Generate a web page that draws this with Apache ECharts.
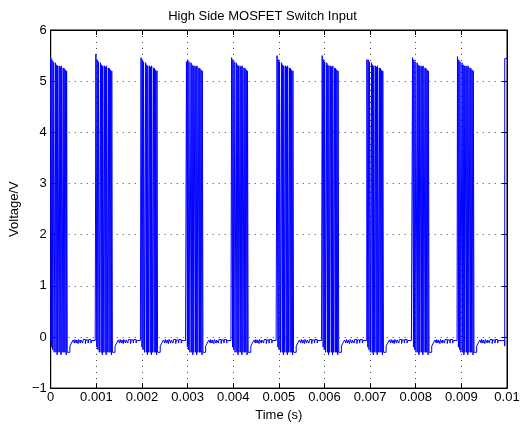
<!DOCTYPE html>
<html>
<head>
<meta charset="utf-8">
<script src="https://cdn.jsdelivr.net/npm/echarts@6/dist/echarts.min.js"></script>
<style>
html,body{margin:0;padding:0;background:#fff;}
#c{width:525px;height:427px;}
</style>
</head>
<body>
<div id="c"></div>
<script>
// ---- data ----
const xTickLabels = ['0','0.001','0.002','0.003','0.004','0.005','0.006','0.007','0.008','0.009','0.01'];
const yTickLabels = ['\u22121','0','1','2','3','4','5','6'];
// start of each switching burst (microseconds)
const burstStartUs = [0, 990, 1980, 2975, 3965, 4960, 5950, 6930, 7930, 8915];
// first peak level of each burst (V)
const burstPeak = [5.46, 5.53, 5.46, 5.38, 5.46, 5.50, 5.50, 5.42, 5.46, 5.48];
// rise/fall edge times inside a burst (us, relative to burst start)
const pulseEdgesUs = [
  0,20, 28,45, 55,75,
  100,115, 122,140, 148,160,
  185,200, 208,225, 232,250,
  272,287, 294,312, 320,340, 348,362
];
// high level of each pulse after the first (V)
const pulseTops = [5.42, 5.38, 5.36, 5.32, 5.30, 5.30, 5.28, 5.30, 5.26, 5.25, 5.22, 5.20];
// low level after each pulse (V)
const gapLows = [-0.20, -0.25, -0.30, -0.30, -0.35, -0.30, -0.30, -0.35, -0.30, -0.30, -0.30, -0.35, -0.30];
// low level before the first burst (V)
const startLevel = -0.08;
// tail after each burst (us relative to burst start, V)
const tailUs = [
  [420,-0.30],[420,-0.18],[455,-0.18],[455,-0.12],[490,-0.12],
  [490,-0.06],[520,-0.06],[520,-0.12],[530,-0.12],[530,-0.05],[560,-0.05],
  [560,-0.12],[570,-0.12],[570,-0.06],[600,-0.06],[600,-0.13],[612,-0.13],
  [612,-0.05],[650,-0.05],[650,-0.12],[660,-0.12],[660,-0.06],[700,-0.06],
  [700,-0.12],[712,-0.12],[712,-0.05],[760,-0.05],[760,-0.13],[772,-0.13],
  [772,-0.06],[820,-0.06],[820,-0.12],[832,-0.12],[832,-0.05],[880,-0.05],
  [880,-0.12],[895,-0.12],[895,-0.07],[975,-0.07]
];
// start of the next burst at the right edge (us, V)
const finalEdgeUs = [[9950,-0.18],[9950,5.44],[10000,5.44]];

// ---- build the waveform from the read values ----
const wave = [];
wave.push([0, startLevel]);
for (let k = 0; k < burstStartUs.length; k++) {
  const b = burstStartUs[k];
  let prevLow = k === 0 ? startLevel : tailUs[tailUs.length - 1][1];
  const nPulse = pulseEdgesUs.length / 2;
  for (let p = 0; p < nPulse; p++) {
    const tr = b + pulseEdgesUs[2 * p];
    const tf = b + pulseEdgesUs[2 * p + 1];
    const top = p === 0 ? burstPeak[k] : pulseTops[p - 1];
    const low = gapLows[p];
    wave.push([tr * 1e-6, prevLow]);
    wave.push([tr * 1e-6, top]);
    wave.push([tf * 1e-6, top]);
    wave.push([tf * 1e-6, low]);
    prevLow = low;
  }
  for (const [t, v] of tailUs) wave.push([(b + t) * 1e-6, v]);
}
wave.push([finalEdgeUs[0][0] * 1e-6, tailUs[tailUs.length - 1][1]]);
for (const [t, v] of finalEdgeUs) wave.push([t * 1e-6, v]);

const font = 'Liberation Sans, Arial, Helvetica, sans-serif';
const chart = echarts.init(document.getElementById('c'), null, {renderer: 'canvas'});

const dotted = {show: true, lineStyle: {color: '#444', width: 1, type: [1, 5]}};
const axisLineStyle = {show: true, onZero: false, lineStyle: {color: '#000', width: 1}};
const tick = {show: true, inside: true, length: 5, lineStyle: {color: '#000'}};

chart.setOption({
  animation: false,
  backgroundColor: '#fff',
  title: {
    text: 'High Side MOSFET Switch Input',
    left: 'center',
    top: 5,
    textStyle: {fontFamily: font, fontSize: 13, fontWeight: 'normal', color: '#000'}
  },
  grid: {left: 50, right: 18, top: 30, bottom: 37, containLabel: false,
         show: true, borderColor: '#000', borderWidth: 1, backgroundColor: 'transparent'},
  xAxis: [{
    type: 'value', min: 0, max: 0.01, interval: 0.001, position: 'bottom',
    name: 'Time (s)', nameLocation: 'middle', nameGap: 17,
    nameTextStyle: {fontFamily: font, fontSize: 13, color: '#000'},
    axisLine: axisLineStyle,
    axisTick: tick,
    axisLabel: {
      fontFamily: font, fontSize: 13, color: '#000', margin: 3,
      formatter: v => xTickLabels[Math.round(v / 0.001)]
    },
    splitLine: dotted
  }, {
    type: 'value', min: 0, max: 0.01, interval: 0.001, position: 'top',
    axisLine: axisLineStyle,
    axisTick: tick,
    axisLabel: {show: false}, splitLine: {show: false}
  }],
  yAxis: [{
    type: 'value', min: -1, max: 6, interval: 1, position: 'left',
    name: 'Voltage/V', nameLocation: 'middle', nameGap: 21, nameRotate: 90,
    nameTextStyle: {fontFamily: font, fontSize: 13, color: '#000'},
    axisLine: axisLineStyle,
    axisTick: tick,
    axisLabel: {
      fontFamily: font, fontSize: 13, color: '#000', margin: 4,
      formatter: v => yTickLabels[Math.round(v) + 1]
    },
    splitLine: dotted
  }, {
    type: 'value', min: -1, max: 6, interval: 1, position: 'right',
    axisLine: axisLineStyle,
    axisTick: tick,
    axisLabel: {show: false}, splitLine: {show: false}
  }],
  series: [{
    type: 'line',
    data: wave,
    xAxisIndex: 0, yAxisIndex: 0,
    showSymbol: false,
    symbol: 'none',
    sampling: null,
    clip: true,
    lineStyle: {color: '#0000ff', width: 1},
    itemStyle: {color: '#0000ff'}
  }]
});
</script>
</body>
</html>
